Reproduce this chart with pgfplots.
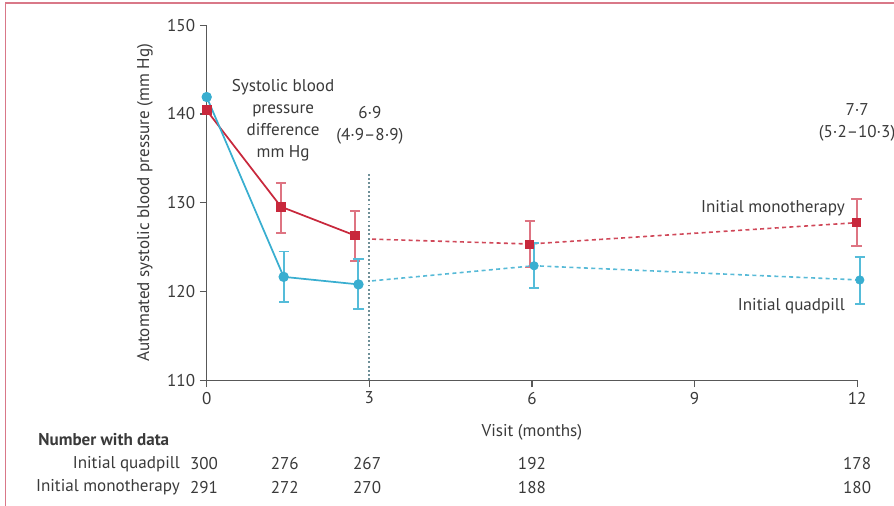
\documentclass[border=0pt]{standalone}
\usepackage{fontspec}
\setmainfont{PT Sans}
\usepackage{pgfplots}
\usepackage{pgfplotstable}
\pgfplotsset{compat=1.18}
\definecolor{lred}{HTML}{C8283C}
\definecolor{lredl}{HTML}{DE7482}
\definecolor{lblue}{HTML}{39AED0}
\definecolor{lbluel}{HTML}{55BCD9}
\definecolor{txt}{HTML}{3A3A3A}
\definecolor{framec}{HTML}{D97888}
\definecolor{vline}{HTML}{6F9098}
\newcommand{\f}{\fontsize{12.8}{16.5}\selectfont}

\pgfplotstableread{
x y
0 140.4
1.37 129.55
2.74 126.3
}\monosolid
\pgfplotstableread{
x y
3.05 125.9
5.96 125.35
11.99 127.75
}\monodash
\pgfplotstableread{
x y ep em
1.37 129.55 2.70 2.95
2.74 126.3 2.80 2.90
5.96 125.35 2.55 2.65
11.99 127.75 2.65 2.65
}\monoerr
\pgfplotstableread{
x y
0 141.9
1.42 121.65
2.80 120.8
}\quadsolid
\pgfplotstableread{
x y
3.05 121.2
6.04 122.9
12.05 121.3
}\quaddash
\pgfplotstableread{
x y ep em
1.42 121.65 2.85 2.85
2.80 120.8 2.90 2.80
6.04 122.9 2.60 2.50
12.05 121.3 2.60 2.70
}\quaderr

\begin{document}
\begin{tikzpicture}
\path[use as bounding box] (0pt,0pt) rectangle (670.5pt,-379.5pt);
\draw[framec, line width=1.1pt] (4pt,-380pt) -- (4pt,-2.25pt) -- (671pt,-2.25pt);
\begin{axis}[
  at={(155.03pt,-285.23pt)}, anchor=south west,
  scale only axis, width=487.8pt, height=266.4pt,
  xmin=0, xmax=12, ymin=110, ymax=150,
  clip=false,
  axis lines*=left,
  axis line style={draw=txt!85, line width=1.1pt},
  tick align=outside, major tick length=5.2pt,
  tick style={draw=txt!85, line width=0.9pt},
  xtick={0,3,6,9,12}, ytick={110,120,130,140,150},
  minor tick num=0,
  /pgf/number format/assume math mode=true,
  ticklabel style={font=\f, text=txt},
  xlabel={Visit (months)}, ylabel={Automated systolic blood pressure (mm Hg)},
  label style={font=\f, text=txt},
  xlabel style={at={(axis description cs:0.5,-0.146)}, anchor=center},
  ylabel style={at={(axis description cs:-0.0949,0.5)}, anchor=center},
]
\addplot[vline, line width=1.5pt, dash pattern=on 1.4pt off 1.8pt] coordinates {(3,110) (3,133.2)};
\addplot[lred!85, line width=1.2pt, dash pattern=on 3pt off 2.5pt] table[x=x,y=y] {\monodash};
\addplot[lblue!85, line width=1.2pt, dash pattern=on 3pt off 2.5pt] table[x=x,y=y] {\quaddash};
\addplot[lred, line width=1.3pt, mark=square*, mark size=3pt, mark options={fill=lred, draw=lred}] table[x=x,y=y] {\monosolid};
\addplot[lblue, line width=1.3pt, mark=*, mark size=3.2pt, mark options={fill=lblue, draw=lblue}] table[x=x,y=y] {\quadsolid};
\addplot[only marks, mark=square*, mark size=3pt, mark options={fill=lred, draw=lred},
  error bars/.cd, y dir=both, y explicit,
  error bar style={draw=lredl, line width=1.5pt},
  error mark options={rotate=90, draw=lredl, line width=1.3pt, mark size=3.8pt}]
  table[x=x,y=y,y error plus=ep,y error minus=em] {\monoerr};
\addplot[only marks, mark=*, mark size=3.2pt, mark options={fill=lblue, draw=lblue},
  error bars/.cd, y dir=both, y explicit,
  error bar style={draw=lbluel, line width=1.5pt},
  error mark options={rotate=90, draw=lbluel, line width=1.3pt, mark size=3.8pt}]
  table[x=x,y=y,y error plus=ep,y error minus=em] {\quaderr};
\node[font=\f, text=txt, align=center, inner sep=0pt] at (axis cs:1.41,139.25)
  {Systolic blood\\ pressure\\ difference\\ mm Hg};
\node[font=\f, text=txt, align=center, inner sep=0pt] at (axis cs:3.01,138.7)
  {6·9\\ (4·9–8·9)};
\node[font=\f, text=txt, align=center, inner sep=0pt] at (axis cs:12,139.1)
  {7·7\\ (5·2–10·3)};
\node[font=\f, text=txt, anchor=east, inner sep=0pt] at (axis cs:11.78,129.4) {Initial monotherapy};
\node[font=\f, text=txt, anchor=east, inner sep=0pt] at (axis cs:11.78,118.3) {Initial quadpill};
\node[font=\f\bfseries, text=txt, anchor=west, inner sep=0pt] at (axis cs:-3.11,103.28) {Number with data};
\node[font=\f, text=txt, anchor=east, inner sep=0pt] at (axis cs:-0.49,100.58) {Initial quadpill};
\node[font=\f, text=txt, anchor=east, inner sep=0pt] at (axis cs:-0.49,97.98) {Initial monotherapy};
\node[font=\f, text=txt, inner sep=0pt] at (axis cs:-0.05,100.58) {300};
\node[font=\f, text=txt, inner sep=0pt] at (axis cs:-0.05,97.98) {291};
\node[font=\f, text=txt, inner sep=0pt] at (axis cs:1.44,100.58) {276};
\node[font=\f, text=txt, inner sep=0pt] at (axis cs:1.44,97.98) {272};
\node[font=\f, text=txt, inner sep=0pt] at (axis cs:2.96,100.58) {267};
\node[font=\f, text=txt, inner sep=0pt] at (axis cs:2.96,97.98) {270};
\node[font=\f, text=txt, inner sep=0pt] at (axis cs:6,100.58) {192};
\node[font=\f, text=txt, inner sep=0pt] at (axis cs:6,97.98) {188};
\node[font=\f, text=txt, inner sep=0pt] at (axis cs:12,100.58) {178};
\node[font=\f, text=txt, inner sep=0pt] at (axis cs:12,97.98) {180};
\end{axis}
\end{tikzpicture}
\end{document}
